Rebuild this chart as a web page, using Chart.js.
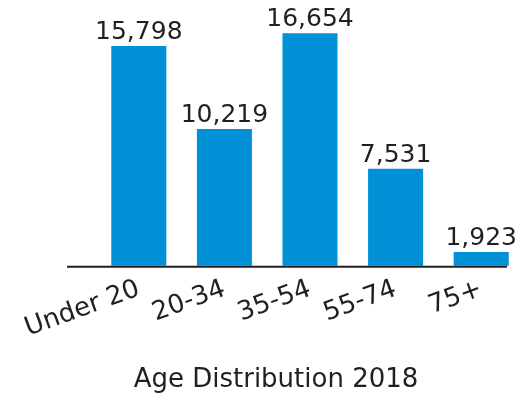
<!DOCTYPE html>
<html>
<head>
<meta charset="utf-8">
<script src="https://cdn.jsdelivr.net/npm/chart.js@4/dist/chart.umd.min.js"></script>
<style>
    html, body { margin: 0; padding: 0; background: #fff; }
    #wrap { width: 524px; height: 402px; }
</style>
</head>
<body>
<div id="wrap"><canvas id="ageChart" width="524" height="402"></canvas></div>
<script>
    // values
    const ageGroups = ["Under 20", "20-34", "35-54", "55-74", "75+"];
    const population = [15798, 10219, 16654, 7531, 1923];
    const chartTitle = "Age Distribution 2018";

    const INK = "#231f20";
    const BLUE = "#0090d6";
    const FONT = "'DejaVu Sans', sans-serif";

    // value label above each bar
    const valueLabels = {
        id: "valueLabels",
        afterDatasetsDraw(chart) {
            const { ctx } = chart;
            const meta = chart.getDatasetMeta(0);
            ctx.save();
            ctx.fillStyle = INK;
            ctx.font = `25px ${FONT}`;
            ctx.textAlign = "center";
            ctx.textBaseline = "alphabetic";
            meta.data.forEach((bar, i) => {
                ctx.fillText(population[i].toLocaleString("en-US"), bar.x, bar.y - 7);
            });
            ctx.restore();
        },
    };

    // dark baseline under the bars
    const baseline = {
        id: "baseline",
        afterDatasetsDraw(chart) {
            const { ctx, chartArea } = chart;
            ctx.save();
            ctx.strokeStyle = INK;
            ctx.lineWidth = 2;
            ctx.beginPath();
            ctx.moveTo(chartArea.left - 29, chartArea.bottom + 1);
            ctx.lineTo(chartArea.right - 17, chartArea.bottom + 1);
            ctx.stroke();
            ctx.restore();
        },
    };

    new Chart(document.getElementById("ageChart"), {
        type: "bar",
        data: {
            labels: ageGroups,
            datasets: [{
                data: population,
                backgroundColor: BLUE,
                barPercentage: 0.643,
                categoryPercentage: 1,
            }],
        },
        options: {
            responsive: false,
            animation: false,
            layout: { padding: { left: 28, right: 0, top: 0, bottom: 0 } },
            plugins: {
                legend: { display: false },
                tooltip: { enabled: false },
                title: {
                    display: true,
                    position: "bottom",
                    text: chartTitle,
                    color: INK,
                    font: { family: FONT, size: 26, weight: "normal" },
                    padding: { top: 19, bottom: 6 },
                },
            },
            scales: {
                x: {
                    grid: { display: false },
                    border: { display: false },
                    ticks: {
                        color: INK,
                        font: { family: FONT, size: 26 },
                        minRotation: 20,
                        maxRotation: 20,
                        autoSkip: false,
                        padding: 0,
                    },
                    afterFit(scale) { scale.height = 80; },
                },
                y: {
                    min: 1000,
                    max: 18900,
                    grid: { display: false },
                    border: { display: false },
                    ticks: { display: false },
                    afterFit(scale) { scale.width = 68; },
                },
            },
        },
        plugins: [valueLabels, baseline],
    });
</script>
</body>
</html>
